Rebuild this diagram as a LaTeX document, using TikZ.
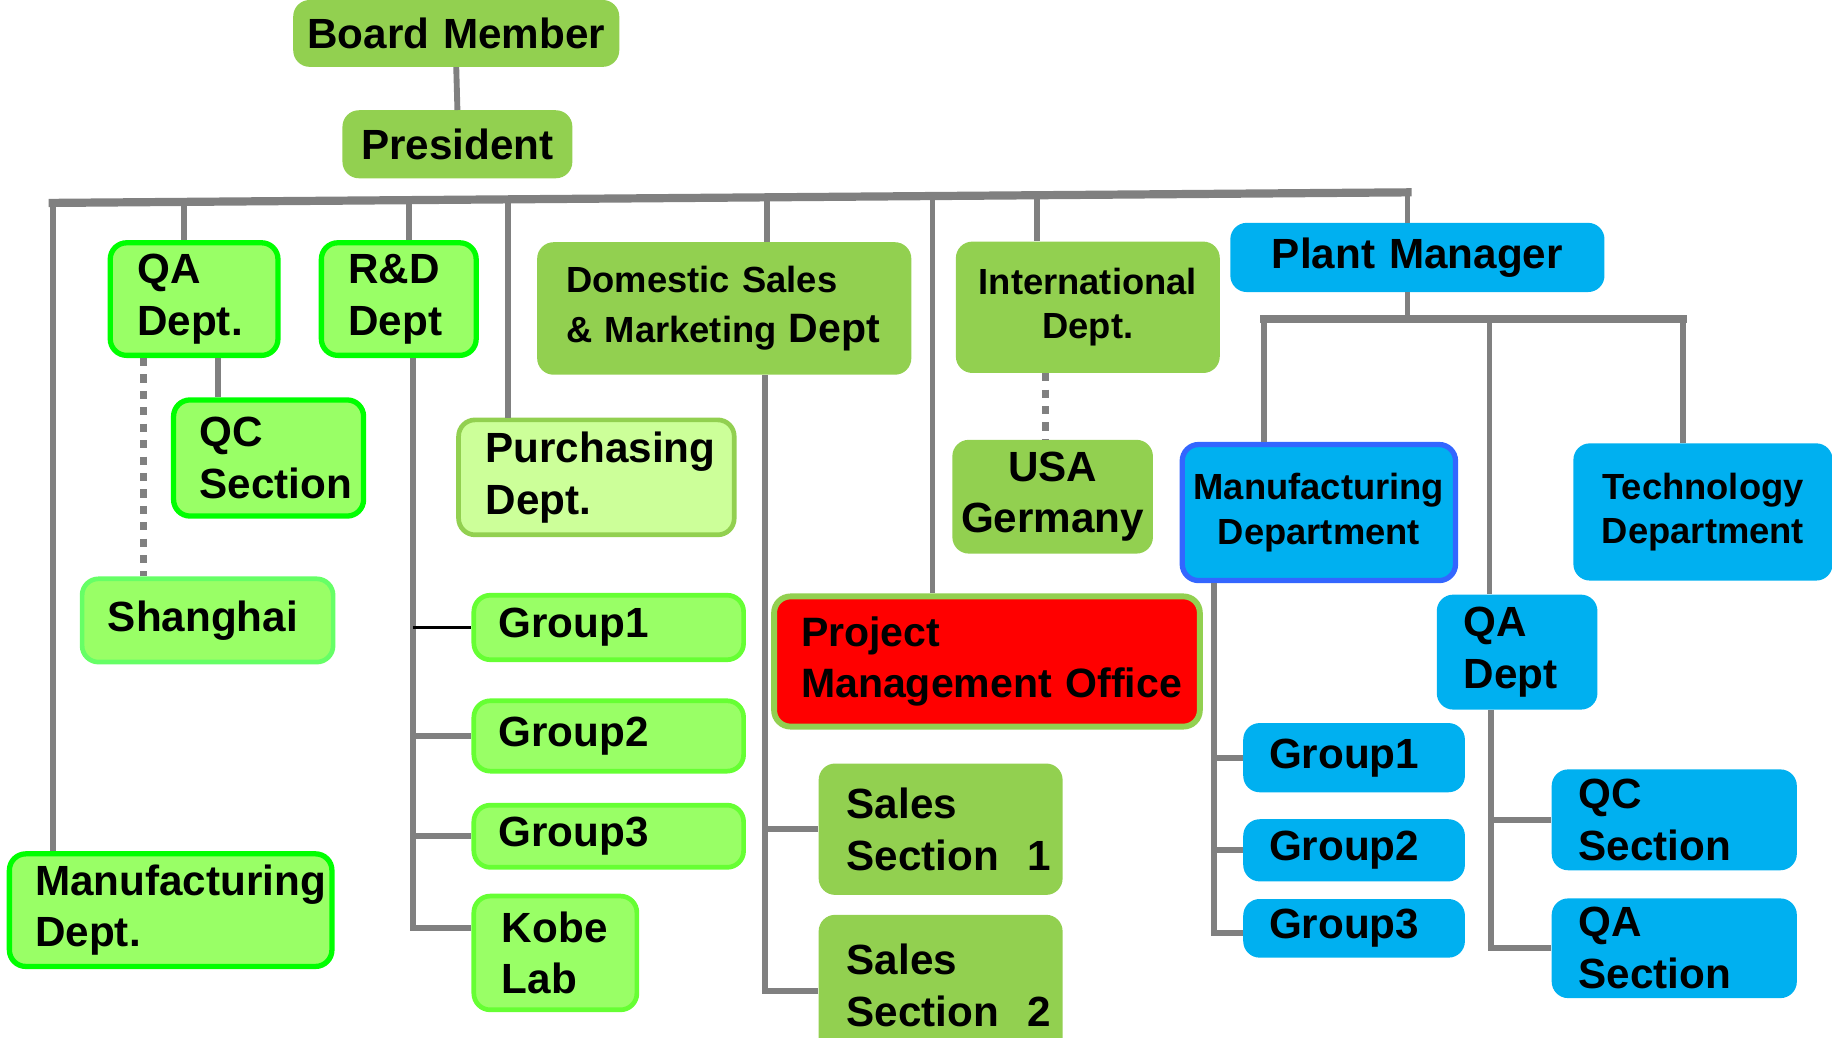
\documentclass[tikz,border=0pt]{standalone}
\usepackage{fontspec}
\setmainfont{Liberation Sans}
\usetikzlibrary{calc}
\definecolor{cOlive}{HTML}{92D050}
\definecolor{cLG}{HTML}{99FF66}
\definecolor{cBright}{HTML}{00FF00}
\definecolor{cLime}{HTML}{66FF33}
\definecolor{cShang}{HTML}{66FF66}
\definecolor{cPale}{HTML}{CCFF99}
\definecolor{cBlue}{HTML}{00B0F0}
\definecolor{cBlueB}{HTML}{3366FF}
\definecolor{cLine}{HTML}{808080}
\definecolor{cRed}{HTML}{FF0000}
\begin{document}
\begin{tikzpicture}[x=1pt,y=-1pt,
  box/.style={rounded corners=14pt, inner ysep=0pt, text=black,
    font=\bfseries\fontsize{36}{44}\selectfont,
    execute at begin node={\hyphenpenalty=10000\exhyphenpenalty=10000}},
  small/.style={font=\bfseries\fontsize{31}{38}\selectfont},
  lft/.style={align=left},
  ctr/.style={align=center, inner xsep=4pt},
  oliveb/.style={box, fill=cOlive},
  greenb/.style={box, fill=cLG, draw=cBright, line width=4.5pt},
  limeb/.style={box, fill=cLG, draw=cLime, line width=4pt},
  shangb/.style={box, fill=cLG, draw=cShang, line width=4pt},
  paleb/.style={box, fill=cPale, draw=cOlive, line width=4pt},
  redb/.style={box, fill=cRed, draw=cOlive, line width=5pt},
  blueb/.style={box, fill=cBlue},
  blueborder/.style={box, fill=cBlue, draw=cBlueB, line width=4.5pt},
  conn/.style={draw=cLine, line width=5pt},
  busline/.style={draw=cLine, line width=7pt, line cap=rect},
  dotconn/.style={draw=cLine, line width=6pt, dash pattern=on 7pt off 7pt},
]
\useasboundingbox (0,0) rectangle (1562,885);

% ---------- nodes ----------
\node[oliveb, ctr, minimum width=278pt, minimum height=57pt, text width=270pt] (bm) at (389,28.5) {Board Member};
\node[oliveb, ctr, minimum width=196pt, minimum height=58pt, text width=188pt] (pres) at (390,123) {President};

\node[greenb, lft, minimum width=143pt, minimum height=96pt, inner xsep=23pt, text width=97pt] (qa) at (165.5,255) {QA\\Dept.};
\node[greenb, lft, minimum width=132pt, minimum height=96pt, inner xsep=23pt, text width=86pt] (rd) at (340,255) {R\&D\\Dept};
\node[greenb, lft, minimum width=162pt, minimum height=99pt, inner xsep=22pt, text width=118pt] (qc) at (229,390.5) {QC\\Section};
\node[shangb, lft, minimum width=214pt, minimum height=71pt, inner xsep=22pt, text width=170pt] (sh) at (177,529) {Shanghai};
\node[greenb, lft, minimum width=275pt, minimum height=96pt, inner xsep=22pt, text width=231pt] (mfgL) at (145.5,776) {Manufacturing\\Dept.};

\node[paleb, lft, minimum width=235pt, minimum height=98pt, inner xsep=23pt, text width=189pt] (pu) at (508.5,407) {Purchasing\\Dept.};
\node[oliveb, lft, minimum width=319pt, minimum height=113pt, inner xsep=25pt, text width=269pt, font=\bfseries\fontsize{31}{43}\selectfont] (ds) at (617.5,263) {Domestic Sales\\\& Marketing {\fontsize{35}{43}\selectfont Dept}};

\node[limeb, lft, minimum width=230pt, minimum height=55pt, inner xsep=21pt, text width=188pt] (g1L) at (519,535) {Group1};
\node[limeb, lft, minimum width=230pt, minimum height=60pt, inner xsep=21pt, text width=188pt] (g2L) at (519,627.5) {Group2};
\node[limeb, lft, minimum width=230pt, minimum height=53pt, inner xsep=21pt, text width=188pt] (g3L) at (519,713) {Group3};
\node[limeb, lft, minimum width=139pt, minimum height=97pt, inner xsep=24pt, text width=91pt] (kobe) at (473.5,812.5) {Kobe\\Lab};

\node[redb, lft, minimum width=363pt, minimum height=111pt, inner xsep=23pt, text width=317pt, font=\bfseries\fontsize{35}{44}\selectfont] (pmo) at (841.5,564) {Project\\\mbox{Management Office}};
\node[oliveb, lft, minimum width=208pt, minimum height=112pt, inner xsep=24pt, text width=160pt] (s1) at (802,707) {Sales\\Section~~1};
\node[oliveb, lft, minimum width=208pt, minimum height=120pt, inner xsep=24pt, text width=160pt] (s2) at (802,840) {Sales\\Section~~2};

\node[oliveb, ctr, small, minimum width=225pt, minimum height=112pt, text width=217pt] (intl) at (927.5,262) {International\\Dept.};
\node[oliveb, ctr, minimum width=171pt, minimum height=97pt, text width=163pt] (usa) at (897.5,423.5) {USA\\Germany};

\node[blueb, ctr, minimum width=319pt, minimum height=59pt, text width=311pt] (pm) at (1208.5,219.5) {Plant Manager};
\node[blueborder, ctr, small, minimum width=233pt, minimum height=116pt, text width=225pt] (mfgR) at (1124.5,437) {Manufacturing\\Department};
\node[blueb, ctr, small, minimum width=221pt, minimum height=117pt, text width=213pt] (tech) at (1452,436.5) {Technology\\Department};
\node[blueb, lft, minimum width=137pt, minimum height=98pt, inner xsep=23pt, text width=91pt] (qaR) at (1293.5,556) {QA\\Dept};

\node[blueb, lft, minimum width=189pt, minimum height=59pt, inner xsep=22pt, text width=145pt] (g1R) at (1154.5,646) {Group1};
\node[blueb, lft, minimum width=189pt, minimum height=53pt, inner xsep=22pt, text width=145pt] (g2R) at (1154.5,725) {Group2};
\node[blueb, lft, minimum width=189pt, minimum height=50pt, inner xsep=22pt, text width=145pt] (g3R) at (1154.5,791.5) {Group3};
\node[blueb, lft, minimum width=209pt, minimum height=86pt, inner xsep=23pt, text width=163pt] (qcR) at (1427.5,699) {QC\\Section};
\node[blueb, lft, minimum width=209pt, minimum height=85pt, inner xsep=23pt, text width=163pt] (qaS) at (1427.5,808.5) {QA\\Section};

% ---------- connectors ----------
\draw[conn] (bm.south) -- (pres.north);

% main bus (slightly slanted)
\coordinate (busL) at (45,173);
\coordinate (busR) at (1200,164);
\coordinate (dQA) at (157,172.1);
\coordinate (dRD) at (349,170.6);
\coordinate (dPU) at (433,170.0);
\coordinate (dDS) at (654,168.3);
\coordinate (dPM) at (795,167.2);
\coordinate (dIN) at (884,166.5);
\draw[busline] (busL) -- (busR);
\draw[conn] (busL) -- (busL |- mfgL.north);
\draw[conn] (dQA) -- (dQA |- qa.north);
\draw[conn] (dRD) -- (dRD |- rd.north);
\draw[conn] (dPU) -- (dPU |- pu.north);
\draw[conn] (dDS) -- (dDS |- ds.north);
\draw[conn] (dPM) -- (dPM |- pmo.north);
\draw[conn] (dIN) -- (dIN |- intl.north);
\draw[conn] (busR) -- (busR |- pm.north);

% QA dept children
\draw[conn] ([xshift=20.5pt]qa.south) -- ([xshift=20.5pt]qa.south |- qc.north);
\draw[dotconn] ([xshift=-43.5pt]qa.south) -- ([xshift=-43.5pt]qa.south |- sh.north);

% R&D children
\coordinate (rdv) at ([xshift=12pt]rd.south);
\coordinate (kobeJ) at ([yshift=21.5pt]kobe.west);
\draw[conn] (rdv) -- (rdv |- kobeJ) -- (kobeJ);
\draw[black, line width=2pt] (rdv |- g1L.west) -- (g1L.west);
\draw[conn] (rdv |- g2L.west) -- (g2L.west);
\draw[conn] (rdv |- g3L.west) -- (g3L.west);

% Domestic sales children
\coordinate (dsv) at ([xshift=34.5pt]ds.south);
\coordinate (s2J) at ([yshift=-5pt]s2.west);
\draw[conn] (dsv) -- (dsv |- s2J) -- (s2J);
\draw[conn] (dsv |- s1.west) -- (s1.west);

% International -> USA
\draw[dotconn] ([xshift=-36.5pt]intl.south) -- ([xshift=-36.5pt]intl.south |- usa.north);

% Plant manager
\coordinate (pmbM) at (1200,272);
\coordinate (pmbL) at (1078,272);
\coordinate (pmbQ) at (1270,272);
\coordinate (pmbR) at (1435,272);
\draw[conn] (pmbM |- pm.south) -- (pmbM);
\draw[busline] (pmbL) -- (pmbR);
\draw[conn] (pmbL) -- (pmbL |- mfgR.north);
\draw[conn] (pmbQ) -- (pmbQ |- qaR.north);
\draw[conn] (pmbR) -- (pmbR |- tech.north);

% Manufacturing department children
\coordinate (mfv) at ([xshift=-89.5pt]mfgR.south);
\coordinate (g3J) at ([yshift=-4pt]g3R.west);
\draw[conn] (mfv) -- (mfv |- g3J) -- (g3J);
\draw[conn] (mfv |- g1R.west) -- (g1R.west);
\draw[conn] (mfv |- g2R.west) -- (g2R.west);

% QA dept (plant) children
\coordinate (qav) at ([xshift=-22.5pt]qaR.south);
\draw[conn] (qav) -- (qav |- qaS.west) -- (qaS.west);
\draw[conn] (qav |- qcR.west) -- (qcR.west);
\end{tikzpicture}
\end{document}
